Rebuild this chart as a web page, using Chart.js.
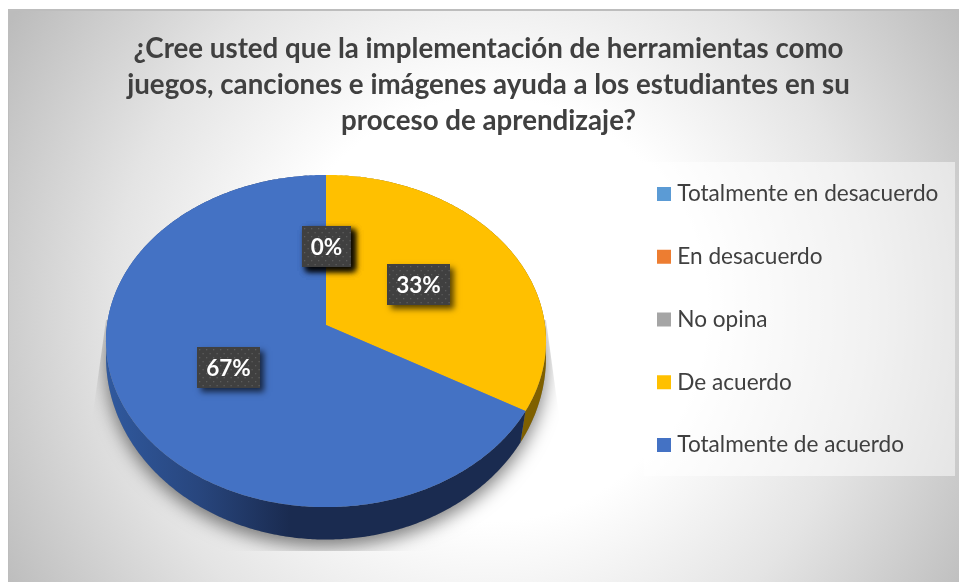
<!DOCTYPE html>
<html lang="es">
<head>
<meta charset="utf-8">
<style>html,body{margin:0;padding:0;background:#fff}canvas{display:block}</style>
<script src="https://cdn.jsdelivr.net/npm/chart.js@4/dist/chart.umd.js"></script>
</head>
<body>
<canvas id="c" width="959" height="582"></canvas>
<script>
const titleLines = [
  "¿Cree usted que la implementación de herramientas como",
  "juegos, canciones e imágenes ayuda a los estudiantes en su",
  "proceso de aprendizaje?"
];
const categories = ["Totalmente en desacuerdo","En desacuerdo","No opina","De acuerdo","Totalmente de acuerdo"];
const values = [0,0,0,33.3,66.7];
const colors = ["#5b9bd5","#ed7d31","#a5a5a5","#ffc000","#4472c4"];
const FONT = "Lato, Carlito, Calibri, sans-serif";

// perspective of the tilted disc: upper face and lower rim, relative to the arc's centre and radius
const upperFace = {dy:0, ax:0.9955, by:0.748, k:0.0964};
const lowerRim  = {dy:25, ax:0.999, by:0.827, k:0.04};
function project(p, arc, angle, f = 1){
  const X = Math.cos(angle)*f, Y = Math.sin(angle)*f, d = 1 - p.k*Y, r = arc.outerRadius;
  return [arc.x + r*p.ax*X/d, arc.y + p.dy + r*p.by*Y/d];
}
function trace(ctx, p, arc, a0, a1, first){
  const n = Math.max(1, Math.ceil(Math.abs(a1-a0)/0.01));
  for(let i=0;i<=n;i++){
    const q = project(p, arc, a0+(a1-a0)*i/n);
    if(i===0 && first) ctx.moveTo(q[0],q[1]); else ctx.lineTo(q[0],q[1]);
  }
}
function wallFill(ctx, i){
  if(i===4){
    const g = ctx.createLinearGradient(106,0,290,0);
    g.addColorStop(0,"#30599e"); g.addColorStop(0.5,"#28467e"); g.addColorStop(1,"#1a2b50");
    return g;
  }
  return "#7f6000";
}

const scene = {
  id:"scene",
  beforeDraw(chart){
    const ctx = chart.ctx;
    ctx.save();
    ctx.fillStyle="#fff"; ctx.fillRect(0,0,959,582);
    const g = ctx.createRadialGradient(490,310,40,490,310,560);
    g.addColorStop(0,"#ffffff"); g.addColorStop(0.33,"#ffffff");
    g.addColorStop(0.65,"#e4e4e4"); g.addColorStop(1,"#bcbcbc");
    ctx.fillStyle=g; ctx.fillRect(8,9,951,573);
    ctx.fillStyle="#bdbdbd"; ctx.fillRect(8,9,951,2); ctx.fillRect(8,9,1,573);
    ctx.fillStyle="rgba(255,255,255,0.5)"; ctx.fillRect(644,162,311,314);
    ctx.restore();
  },
  afterLayout(chart){
    const lg = chart.legend;
    const pad = lg.options.labels.padding;
    lg.left = 662 - pad; lg.right = lg.left + lg.width;
    lg.top = 182.7 - pad; lg.bottom = lg.top + 400;
    Object.assign(chart.chartArea,{left:8,right:644,top:163,bottom:487,width:636,height:324});
  },
  beforeDatasetDraw(chart,args){
    const ctx = chart.ctx, arcs = args.meta.data;
    const ref = arcs[0];
    ctx.save();
    // soft shadow, cut off by a box as in the picture
    ctx.save();
    ctx.beginPath();
    ctx.moveTo(106,320);ctx.lineTo(90,435);ctx.lineTo(90,551);ctx.lineTo(565,551);ctx.lineTo(562,438);ctx.lineTo(546,320);ctx.closePath();
    ctx.clip();
    ctx.shadowColor="rgba(0,0,0,0.5)"; ctx.shadowBlur=18; ctx.shadowOffsetY=7;
    ctx.fillStyle="#888";
    ctx.beginPath(); trace(ctx,lowerRim,ref,0,Math.PI*2,true); ctx.closePath(); ctx.fill();
    ctx.restore();
    // side walls
    arcs.forEach((a,i)=>{
      if(a.endAngle-a.startAngle<=0) return;
      ctx.beginPath();
      trace(ctx,upperFace,a,a.startAngle,a.endAngle,true);
      trace(ctx,lowerRim,a,a.endAngle,a.startAngle,false);
      ctx.closePath();
      ctx.fillStyle = wallFill(ctx,i);
      ctx.fill();
    });
    // upper faces
    arcs.forEach((a,i)=>{
      if(a.endAngle-a.startAngle<=0) return;
      ctx.beginPath();
      ctx.moveTo(a.x,a.y);
      trace(ctx,upperFace,a,a.startAngle,a.endAngle,false);
      ctx.closePath();
      ctx.fillStyle = colors[i];
      ctx.fill();
    });
    ctx.restore();
    return false;
  },
  afterDatasetsDraw(chart){
    const ctx = chart.ctx, arcs = chart.getDatasetMeta(0).data;
    const total = values.reduce((s,v)=>s+v,0);
    ctx.save();
    ctx.font = "bold 22.5px "+FONT;
    ctx.textAlign="center"; ctx.textBaseline="middle";
    arcs.forEach((a,i)=>{
      const txt = Math.round(values[i]/total*100)+"%";
      const q = project(upperFace,a,(a.startAngle+a.endAngle)/2,0.5);
      const w = Math.round(ctx.measureText(txt).width)+18, h = 41;
      const x = Math.round(q[0]-w/2), y = Math.round(q[1]-h/2);
      ctx.save();
      ctx.shadowColor="rgba(0,0,0,0.65)"; ctx.shadowBlur=6; ctx.shadowOffsetX=4; ctx.shadowOffsetY=4;
      ctx.fillStyle="#404040"; ctx.fillRect(x,y,w,h);
      ctx.restore();
      ctx.fillStyle="#5c5c5c";
      for(let r=0,py=y+2;py<y+h-1;py+=4,r++){
        for(let px=x+2+(r%2?3.5:0);px<x+w-1;px+=7) ctx.fillRect(px,py,1.3,1.3);
      }
      ctx.fillStyle="#fff";
      ctx.fillText(txt,x+w/2,y+h/2+1);
    });
    ctx.restore();
  }
};

new Chart(document.getElementById("c"),{
  type:"pie",
  data:{labels:categories,datasets:[{data:values,backgroundColor:colors,borderWidth:0}]},
  options:{
    responsive:false,animation:false,radius:220,
    layout:{padding:{left:18,top:0,right:0,bottom:0}},
    plugins:{
      tooltip:{enabled:false},
      title:{display:true,text:titleLines,color:"#404040",
        font:{family:FONT,size:27.7,weight:"bold",lineHeight:"36px"},padding:{top:31,bottom:10}},
      legend:{position:"right",align:"start",
        labels:{color:"#404040",font:{family:FONT,size:22.6},padding:40.15,
          usePointStyle:true,pointStyle:"rect",boxWidth:4,boxHeight:14}}
    }
  },
  plugins:[scene]
});
</script>
</body>
</html>
